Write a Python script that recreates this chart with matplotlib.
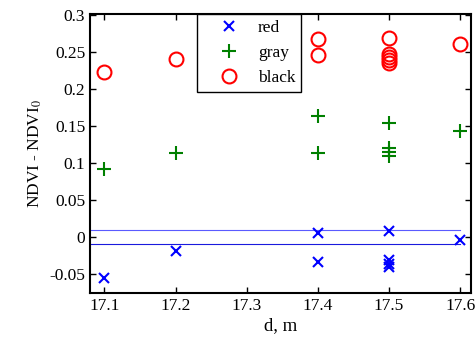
import numpy as np
import matplotlib
matplotlib.use('Agg')
import matplotlib.pyplot as plt

plt.rcParams['font.family'] = ['Liberation Serif', 'DejaVu Serif']
plt.rcParams['mathtext.fontset'] = 'stix'

# "red" series (blue crosses)
red_d = [17.1, 17.2, 17.4, 17.4, 17.5, 17.5, 17.5, 17.5, 17.6]
red_v = [-0.055, -0.019, 0.006, -0.034, 0.008, -0.031, -0.037, -0.041, -0.004]

# "gray" series (green pluses)
gray_d = [17.1, 17.2, 17.4, 17.4, 17.5, 17.5, 17.5, 17.5, 17.6]
gray_v = [0.092, 0.114, 0.164, 0.114, 0.154, 0.120, 0.115, 0.110, 0.144]

# "black" series (red circles)
black_d = [17.1, 17.2, 17.4, 17.4, 17.5, 17.5, 17.5, 17.5, 17.5, 17.6]
black_v = [0.224, 0.241, 0.268, 0.246, 0.270, 0.248, 0.244, 0.240, 0.236, 0.261]

# reference band
band = [0.01, -0.01]
band_x = [17.08, 17.6]

xticks = [17.1, 17.2, 17.3, 17.4, 17.5, 17.6]
yticks = [-0.05, 0, 0.05, 0.1, 0.15, 0.2, 0.25, 0.3]

fig = plt.figure(figsize=(4.77, 3.4), dpi=100)
ax = fig.add_axes([0.189, 0.138, 0.798, 0.821])

for b, c in zip(band, ['#5a5aff', '#1a1add']):
    ax.plot(band_x, [b, b], color=c, lw=0.8)

ax.plot(red_d, red_v, 'x', color='#0000ff', ms=7, mew=1.5, label='red')
ax.plot(gray_d, gray_v, '+', color='#008000', ms=10, mew=1.5, label='gray')
ax.plot(black_d, black_v, 'o', mfc='none', mec='#ff0000', ms=10, mew=1.5, label='black')

ax.set_xlim(17.08, 17.615)
ax.set_ylim(-0.076, 0.302)
ax.set_xticks(xticks)
ax.set_xticklabels([str(t) for t in xticks])
ax.set_yticks(yticks)
ax.set_yticklabels(['-0.05', '0', '0.05', '0.1', '0.15', '0.2', '0.25', '0.3'])
ax.tick_params(direction='in', top=True, right=True, labelsize=12.5, length=4, width=1)
for s in ax.spines.values():
    s.set_linewidth(1.5)

ax.set_xlabel('d, m', fontsize=13.5, labelpad=2)
ax.set_ylabel(r'NDVI - NDVI$_0$', fontsize=12.5)

leg = ax.legend(loc='upper left', bbox_to_anchor=(0.281, 1.0), borderaxespad=0,
                fontsize=12.5, fancybox=False, framealpha=1, edgecolor='black',
                handletextpad=0.2, borderpad=0.35, handlelength=2.95,
                labelspacing=0.5)
leg.get_frame().set_linewidth(1.0)

fig.savefig('out.png', dpi=100)
